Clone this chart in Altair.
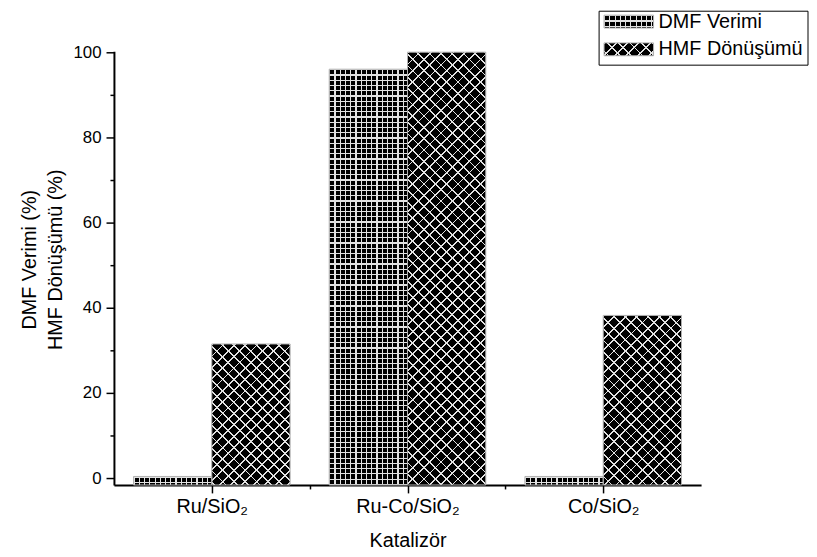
import json
import math
import altair as alt
import pandas as pd

# ---------------- data ----------------
categories = ["Ru/SiO₂", "Ru-Co/SiO₂", "Co/SiO₂"]
series_names = ["DMF Verimi", "HMF Dönüşümü"]
dmf_verimi = [0.4, 96.0, 0.4]
hmf_donusumu = [31.5, 100.0, 38.2]
y_major = [0, 20, 40, 60, 80, 100]
y_title = ["DMF Verimi  (%)", "HMF Dönüşümü (%)"]
x_title = "Katalizör"

# ---------------- layout / style ----------------
W, H = 593, 438
Y_MIN, Y_MAX = -1.6, 100.2
X_MIN, X_MAX = -0.5, 2.5
HALF = 0.4
px_x = W / (X_MAX - X_MIN)
px_y = H / (Y_MAX - Y_MIN)

FONT = "Liberation Sans"
FS = 20
FS_Y = 17
LINE = "#e2e2e2"
INK = "#000000"
CLEAR = "rgba(255,255,255,0)"
GRID_P, GRID_LW = 5.3, 1.2
HATCH_P, HATCH_LW = 8.1, 1.3


def stripes(length, period, lw, line, bg):
    stops = []
    k = 0
    while k * period < length:
        a = k * period / length
        b = min((k * period + lw) / length, 1.0)
        c = min((k + 1) * period / length, 1.0)
        stops += [
            {"offset": round(a, 5), "color": line},
            {"offset": round(b, 5), "color": line},
            {"offset": round(b, 5), "color": bg},
            {"offset": round(c, 5), "color": bg},
        ]
        k += 1
    return stops


def grid_fills(w, h):
    base = {"gradient": "linear", "x1": 0, "y1": 0, "x2": 0, "y2": 1,
            "stops": stripes(h, GRID_P, GRID_LW, LINE, INK)}
    over = {"gradient": "linear", "x1": 0, "y1": 0, "x2": 1, "y2": 0,
            "stops": stripes(w, GRID_P, GRID_LW, LINE, CLEAR)}
    return base, over


def hatch_fills(w, h):
    s = (w + h) / (w * w + h * h)
    L = (w + h) / math.sqrt(2)
    base = {"gradient": "linear", "x1": 0, "y1": 0, "x2": w * s, "y2": h * s,
            "stops": stripes(L, HATCH_P, HATCH_LW, LINE, INK)}
    over = {"gradient": "linear", "x1": 1, "y1": 0, "x2": 1 - w * s, "y2": h * s,
            "stops": stripes(L, HATCH_P, HATCH_LW, LINE, CLEAR)}
    return base, over


rows = []
for i, cat in enumerate(categories):
    for j, (name, vals) in enumerate(zip(series_names, [dmf_verimi, hmf_donusumu])):
        v = vals[i]
        x0 = i - HALF + j * HALF
        w = HALF * px_x
        h = (v - Y_MIN) * px_y
        base, over = (grid_fills if j == 0 else hatch_fills)(w, h)
        rows.append(dict(kategori=cat, seri=name, deger=v, x0=x0, x1=x0 + HALF,
                         base=base, over=over))
df = pd.DataFrame(rows)

cats_js = json.dumps(categories)
y_vals = sorted(y_major + [v + 10 for v in y_major[:-1]])
majors_js = json.dumps(y_major)

x_axis = alt.Axis(
    values=[0, 0.5, 1, 1.5, 2],
    labelExpr=f"datum.value % 1 === 0 ? {cats_js}[datum.value] : ''",
    tickSize={"condition": {"test": "datum.value % 1 !== 0", "value": 4}, "value": 8},
    labelPadding=4, labelFlush=False, labelOverlap=False, labelFontSize=FS,
    titleY=56, titleBaseline="middle",
)
y_axis = alt.Axis(
    values=y_vals,
    labelExpr=f"indexof({majors_js}, datum.value) >= 0 ? datum.label : ''",
    tickSize={"condition": {"test": f"indexof({majors_js}, datum.value) < 0", "value": 4}, "value": 8},
    labelPadding=5, labelFlush=False, labelOverlap=False, labelFontSize=FS_Y,
    titleX=-85, titleY=210, titleBaseline="middle", titleLineHeight=26,
)

x_enc = alt.X("x0:Q", scale=alt.Scale(domain=[X_MIN, X_MAX], nice=False, zero=False),
              axis=x_axis, title=x_title)
y_enc = alt.Y("deger:Q", scale=alt.Scale(domain=[Y_MIN, Y_MAX], nice=False, zero=False),
              axis=y_axis, title=y_title)

bars_base = alt.Chart(df).mark_rect(strokeWidth=0).encode(
    x=x_enc, x2="x1:Q", y=y_enc, y2=alt.datum(Y_MIN),
    fill=alt.Fill("base:N", scale=None),
)
bars_over = alt.Chart(df).mark_rect(stroke="#b0b0b0", strokeWidth=1).encode(
    x=x_enc, x2="x1:Q", y=y_enc, y2=alt.datum(Y_MIN),
    fill=alt.Fill("over:N", scale=None),
)

# ---------------- legend (custom, pattern swatches) ----------------
SW_W, SW_H = 50, 13
leg_x0, leg_x1, leg_y0, leg_y1 = 490, 701, -40.5, 14
sw_x = 495
txt_x = 550
row_y = [-30, -2]
swatch_fills = [grid_fills(SW_W, SW_H), hatch_fills(SW_W, SW_H)]

legend_layers = [
    alt.Chart(pd.DataFrame({"k": [0]})).mark_rect(
        filled=False, stroke="black", strokeWidth=1
    ).encode(x=alt.value(leg_x0), x2=alt.value(leg_x1),
             y=alt.value(leg_y0), y2=alt.value(leg_y1))
]
for k, name in enumerate(series_names):
    base, over = swatch_fills[k]
    for fill, stroke in [(base, None), (over, "#b0b0b0")]:
        props = dict(fill=fill)
        if stroke:
            props.update(stroke=stroke, strokeWidth=1)
        else:
            props.update(strokeWidth=0)
        legend_layers.append(
            alt.Chart(pd.DataFrame({"k": [k]})).mark_rect(**props).encode(
                x=alt.value(sw_x), x2=alt.value(sw_x + SW_W),
                y=alt.value(row_y[k] - SW_H / 2), y2=alt.value(row_y[k] + SW_H / 2))
        )
    legend_layers.append(
        alt.Chart(pd.DataFrame({"label": [name]})).mark_text(
            align="left", baseline="middle", font=FONT, fontSize=FS, color="black"
        ).encode(x=alt.value(txt_x), y=alt.value(row_y[k]), text="label:N")
    )

chart = alt.layer(bars_base, bars_over, *legend_layers).properties(
    width=W, height=H,
    autosize=alt.AutoSizeParams(type="none"),
    padding={"left": 107, "top": 41, "right": 109, "bottom": 70},
).configure_view(stroke=None).configure_axis(
    labelFont=FONT, titleFont=FONT, titleFontSize=FS,
    labelColor="black", titleColor="black", titleFontWeight="normal",
    domainColor="black", tickColor="black", domainWidth=2, tickWidth=1.5,
    grid=False,
)

chart.save("out.html", embed_options={"renderer": "svg", "actions": False})
